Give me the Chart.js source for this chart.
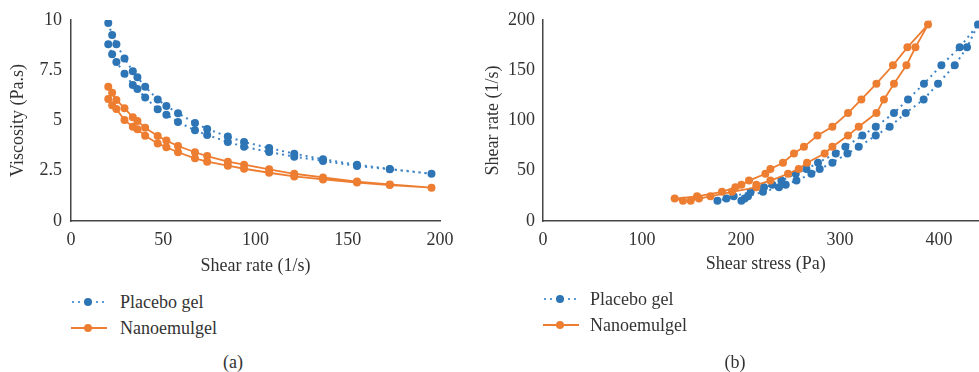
<!DOCTYPE html>
<html>
<head>
<meta charset="utf-8">
<script src="https://cdn.jsdelivr.net/npm/chart.js@4.4.0/dist/chart.umd.min.js"></script>
<style>
  html, body { margin: 0; padding: 0; background: #fff; width: 979px; height: 372px; overflow: hidden; }
  body { position: relative; font-family: "Liberation Serif", "Times New Roman", "DejaVu Serif", serif; color: #333; }
  canvas { position: absolute; top: 0; }
  #chartA { left: 0; }
  #chartB { left: 480px; }
  .leg { position: absolute; font-size: 18px; line-height: 20px; height: 20px; display: flex; align-items: center; white-space: nowrap; }
  .cap { position: absolute; font-size: 18px; line-height: 20px; transform: translateX(-50%); }
</style>
</head>
<body>
<canvas id="chartA" width="480" height="290"></canvas>
<canvas id="chartB" width="520" height="290"></canvas>

<div class="leg" style="left:71px;top:292px">
  <svg width="36" height="20"><line x1="1" y1="10" x2="36" y2="10" stroke="#5B9BD5" stroke-width="2" stroke-dasharray="2,4"/><circle cx="17" cy="10" r="4" fill="#2E75B6"/></svg>
  <span style="margin-left:13px">Placebo gel</span>
</div>
<div class="leg" style="left:71px;top:318px">
  <svg width="36" height="20"><line x1="0" y1="10" x2="36" y2="10" stroke="#ED7D31" stroke-width="2"/><circle cx="17" cy="10" r="4" fill="#ED7D31"/></svg>
  <span style="margin-left:13px">Nanoemulgel</span>
</div>
<div class="leg" style="left:543px;top:289px">
  <svg width="36" height="20"><line x1="1" y1="10" x2="36" y2="10" stroke="#5B9BD5" stroke-width="2" stroke-dasharray="2,4"/><circle cx="17" cy="10" r="4" fill="#2E75B6"/></svg>
  <span style="margin-left:11px">Placebo gel</span>
</div>
<div class="leg" style="left:543px;top:315px">
  <svg width="36" height="20"><line x1="0" y1="10" x2="36" y2="10" stroke="#ED7D31" stroke-width="2"/><circle cx="17" cy="10" r="4" fill="#ED7D31"/></svg>
  <span style="margin-left:11px">Nanoemulgel</span>
</div>
<div class="cap" style="left:233px;top:352px">(a)</div>
<div class="cap" style="left:735px;top:352px">(b)</div>

<script>
// shear rate steps (shared by both panels)
const shearRate = [20.2, 22.3, 24.6, 29, 33.5, 36, 40.2, 47, 51.7, 58, 67.2, 73.8, 85, 93.8, 107.4, 121, 136.6, 155, 172.8, 195.4];

// (a) viscosity, Pa.s  - up sweep (20 pts), down sweep (19 pts, same rates without the top one)
const placeboViscUp = [9.85, 9.25, 8.79, 8.09, 7.45, 7.15, 6.68, 6.04, 5.72, 5.36, 4.88, 4.58, 4.20, 3.93, 3.63, 3.35, 3.07, 2.80, 2.59, 2.35];
const placeboViscDown = [8.79, 8.29, 7.91, 7.33, 6.77, 6.57, 6.14, 5.56, 5.29, 4.93, 4.51, 4.28, 3.93, 3.70, 3.43, 3.20, 2.99, 2.74, 2.57];
const nanoViscUp = [6.68, 6.38, 6.02, 5.61, 5.16, 4.98, 4.64, 4.23, 4.00, 3.73, 3.42, 3.23, 2.95, 2.80, 2.57, 2.35, 2.17, 1.96, 1.82, 1.66];
const nanoViscDown = [6.07, 5.76, 5.57, 5.02, 4.69, 4.56, 4.24, 3.86, 3.67, 3.42, 3.12, 2.95, 2.75, 2.60, 2.40, 2.22, 2.07, 1.91, 1.79];

// (b) shear stress, Pa
const placeboStressUp = [200.4, 203.7, 207.1, 222.2, 238.4, 245.2, 256, 271.1, 279.5, 292.3, 307.5, 318.9, 336.1, 350.2, 366.4, 384.5, 399, 415.9, 428.3, 439.4];
const placeboStressDown = [176.2, 185.3, 192.6, 209.8, 223.2, 231.7, 240.8, 255.3, 266.1, 277.8, 295.7, 305.4, 322.6, 336.1, 354.5, 368.7, 384.8, 402.4, 420.9];
const nanoStressUp = [149.2, 157.6, 169.1, 190.9, 215.5, 215.5, 229.7, 247.5, 258.3, 266.7, 284.5, 292.3, 308.1, 318.9, 336.8, 344.4, 354.5, 367.1, 376.2, 388.9];
const nanoStressDown = [141.4, 133, 155.6, 180.8, 194.3, 200.4, 208.1, 224.6, 229.7, 242.4, 253.5, 263.6, 277.2, 292.3, 308.1, 321.6, 336.8, 353.5, 368.1];

const BLUE = '#2E75B6';
const BLUE_LINE = '#3D84C6';
const ORANGE = '#ED7D31';
const FONT = { family: '"Liberation Serif", "Times New Roman", "DejaVu Serif", serif', size: 18 };
const TEXT = '#333';

// up sweep then back down, as one connected line
function sweep(up, down, rateOnX) {
  const pts = [];
  up.forEach((v, i) => pts.push(rateOnX ? { x: shearRate[i], y: v } : { x: v, y: shearRate[i] }));
  for (let i = down.length - 1; i >= 0; i--) {
    const v = down[i];
    pts.push(rateOnX ? { x: shearRate[i], y: v } : { x: v, y: shearRate[i] });
  }
  return pts;
}

function datasets(pUp, pDown, nUp, nDown, rateOnX) {
  return [
    {
      label: 'Placebo gel',
      data: sweep(pUp, pDown, rateOnX),
      showLine: true,
      borderColor: BLUE_LINE,
      borderWidth: 2,
      borderDash: [2, 4],
      pointRadius: 4,
      pointBorderWidth: 0,
      pointBackgroundColor: BLUE,
      order: 2
    },
    {
      label: 'Nanoemulgel',
      data: sweep(nUp, nDown, rateOnX),
      showLine: true,
      borderColor: ORANGE,
      borderWidth: 1.8,
      pointRadius: 4,
      pointBorderWidth: 0,
      pointBackgroundColor: ORANGE,
      order: 1
    }
  ];
}

function axisOpts(o) {
  return {
    type: 'linear',
    min: o.min, max: o.max,
    grid: { display: false, drawTicks: false },
    border: { display: true, color: '#444', width: 1.5 },
    ticks: { stepSize: o.step, font: FONT, color: TEXT, padding: o.tickPad },
    title: { display: true, text: o.title, font: FONT, color: TEXT, padding: o.titlePad },
    afterFit: o.fit,
    afterBuildTicks: o.filter
  };
}

function makeChart(id, ds, xo, yo, padding) {
  new Chart(document.getElementById(id), {
    type: 'scatter',
    data: { datasets: ds },
    options: {
      responsive: false,
      animation: false,
      devicePixelRatio: 1,
      layout: { padding: padding },
      plugins: { legend: { display: false }, tooltip: { enabled: false } },
      scales: { x: axisOpts(xo), y: axisOpts(yo) }
    }
  });
}

makeChart('chartA',
  datasets(placeboViscUp, placeboViscDown, nanoViscUp, nanoViscDown, true),
  { min: 0, max: 200, step: 50, title: 'Shear rate (1/s)', tickPad: 8, titlePad: { top: 0, bottom: 1 },
    fit: s => { s.height = 57; } },
  { min: 0, max: 10, step: 2.5, title: 'Viscosity (Pa.s)', tickPad: 9, titlePad: { top: 7, bottom: 0 },
    fit: s => { s.width = 71; } },
  { left: 0, top: 20, right: 40, bottom: 12 });

makeChart('chartB',
  datasets(placeboStressUp, placeboStressDown, nanoStressUp, nanoStressDown, false),
  { min: 0, max: 450, step: 100, title: 'Shear stress (Pa)', tickPad: 8, titlePad: { top: 0, bottom: 3 },
    fit: s => { s.height = 57; },
    filter: s => { s.ticks = s.ticks.filter(t => t.value <= 400); } },
  { min: 0, max: 200, step: 50, title: 'Shear rate (1/s)', tickPad: 8, titlePad: { top: 2, bottom: 0 },
    fit: s => { s.width = 63; } },
  { left: 0, top: 20, right: 11.5, bottom: 12 });
</script>
</body>
</html>
